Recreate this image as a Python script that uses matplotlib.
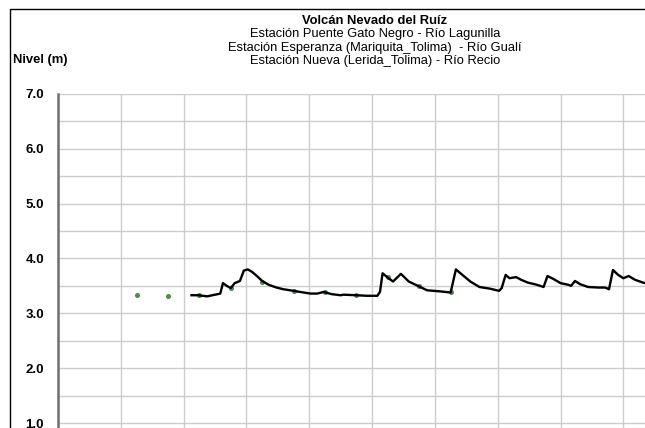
import matplotlib
matplotlib.use("Agg")
import matplotlib.pyplot as plt
from matplotlib.patches import Rectangle

plt.rcParams['font.family'] = ['Liberation Sans', 'DejaVu Sans']

# nivel horario (horas desde el inicio del eje)
horas = [102, 107, 114, 118, 124, 126, 129, 132, 135, 139, 142, 145, 148, 152,
         156, 161, 167, 172, 180, 185, 193, 198, 203, 209, 216, 218, 228, 236,
         244, 246, 248, 252, 256, 262, 268, 275, 282, 292, 300, 304, 309, 315,
         322, 330, 337, 339, 342, 345, 350, 354, 359, 366, 371, 374, 379, 384,
         390, 392, 395, 399, 405, 413, 418, 421, 424, 428, 432, 436, 441, 447,
         452]
nivel = [3.33, 3.33, 3.31, 3.33, 3.36, 3.55, 3.50, 3.46, 3.55, 3.59, 3.78, 3.80,
         3.76, 3.68, 3.59, 3.52, 3.47, 3.44, 3.41, 3.39, 3.36, 3.36, 3.39, 3.35,
         3.33, 3.34, 3.33, 3.32, 3.32, 3.39, 3.73, 3.65, 3.58, 3.72, 3.58, 3.50,
         3.42, 3.40, 3.38, 3.80, 3.70, 3.58, 3.48, 3.45, 3.41, 3.46, 3.70, 3.64,
         3.66, 3.61, 3.56, 3.52, 3.48, 3.68, 3.62, 3.55, 3.52, 3.50, 3.59, 3.53,
         3.48, 3.47, 3.47, 3.44, 3.79, 3.70, 3.64, 3.68, 3.61, 3.56, 3.53]

# lecturas diarias
horas_d = [60, 84, 108, 132, 156, 180, 204, 228, 252, 276, 300]
nivel_d = [3.33, 3.32, 3.33, 3.46, 3.58, 3.41, 3.38, 3.33, 3.67, 3.50, 3.39]

titulo = ["Volcán Nevado del Ruíz",
          "Estación Puente Gato Negro - Río Lagunilla",
          "Estación Esperanza (Mariquita_Tolima)  - Río Gualí",
          "Estación Nueva (Lerida_Tolima) - Río Recio"]

fig = plt.figure(figsize=(6.45, 4.28), dpi=100)
W, H = 645, 428

# marco del grafico (solo se ven el lado izquierdo y el superior)
fig.patches.append(Rectangle((10 / W, -0.5), 2, 0.5 + (H - 9) / H,
                             transform=fig.transFigure, fill=False,
                             edgecolor='black', linewidth=1.0))

ax = fig.add_axes([58 / W, -0.117, 0.974, 0.898])
ax.set_xlim(0, 480)
ax.set_ylim(0, 7)
ax.set_xticks(range(0, 481, 48))
ax.set_yticks([i * 0.5 for i in range(15)])
ax.grid(True, color='#cccccc', linewidth=1.0)
ax.set_axisbelow(True)
ax.tick_params(length=0, labelbottom=False)
ax.set_yticklabels(['%.1f' % v if v % 1 == 0 else '' for v in ax.get_yticks()],
                   fontsize=9.5, fontweight='bold')
ax.tick_params(axis='y', pad=10)
for s in ['top', 'right', 'bottom']:
    ax.spines[s].set_visible(False)
ax.spines['left'].set_color('#707070')
ax.spines['left'].set_linewidth(1.8)

ax.plot(horas_d, nivel_d, linestyle='none', marker='o', markersize=2.6,
        color='#4e8a4e', zorder=3)
ax.plot(horas, nivel, color='black', linewidth=1.7, zorder=4)

cx = 375 / W
fig.text(cx, 1 - 20.5 / H, titulo[0], ha='center', va='center',
         fontsize=9.4, fontweight='bold')
for i, t in enumerate(titulo[1:]):
    fig.text(cx, 1 - (34 + 13.5 * i) / H, t, ha='center', va='center',
             fontsize=9.3)
fig.text(13 / W, 1 - 60 / H, "Nivel (m)", ha='left', va='center',
         fontsize=9.4, fontweight='bold')

fig.savefig("out.png", dpi=100)
